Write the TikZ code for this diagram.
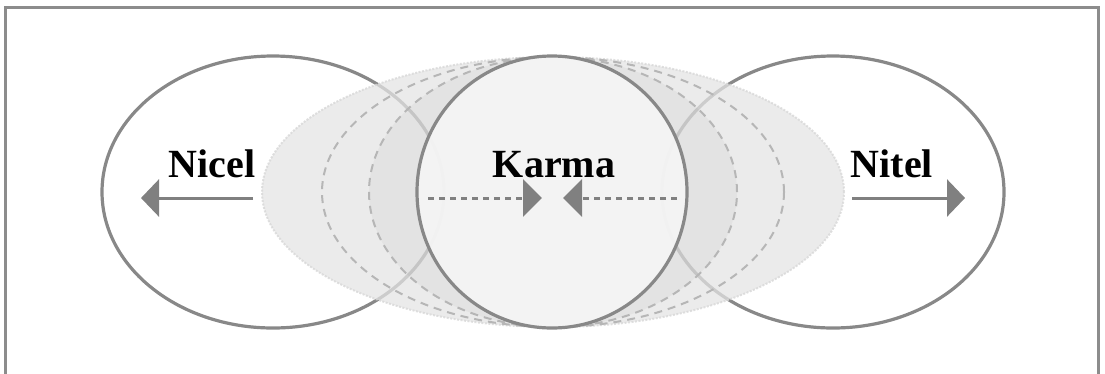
\documentclass[tikz,border=0pt]{standalone}
\usepackage{fontspec}
\setmainfont{Liberation Serif}
\usetikzlibrary{shapes.geometric,arrows.meta}
\definecolor{edgegray}{HTML}{888888}
\definecolor{framegray}{HTML}{8C8C8C}
\definecolor{fuzzgray}{HTML}{E4E4E4}
\definecolor{fuzzedge}{HTML}{D8D8D8}
\definecolor{dashgray}{HTML}{B6B6B6}
\definecolor{midfill}{HTML}{F6F6F6}
\definecolor{arrowgray}{HTML}{808080}
\begin{document}
\begin{tikzpicture}[x=1pt,y=-1pt,
  frame/.style={draw=framegray,line width=3pt},
  ellbase/.style={ellipse,inner sep=0pt,outer sep=0pt},
  sideell/.style={ellbase,draw=edgegray,line width=3.2pt,minimum width=342pt,minimum height=272pt},
  fuzz/.style={ellbase,fill=fuzzgray,fill opacity=0.75,draw=fuzzedge,draw opacity=0.8,line width=2pt,dash pattern=on 2pt off 1.5pt,minimum width=582pt,minimum height=270pt},
  dashell/.style={ellbase,draw=dashgray,line width=2pt,dash pattern=on 8pt off 6pt,minimum height=270pt},
  midell/.style={ellbase,draw=edgegray,line width=3.2pt,fill=midfill,fill opacity=0.9,minimum width=270pt,minimum height=272pt},
  label/.style={font=\fontsize{40}{48}\selectfont\bfseries,anchor=base,inner sep=0pt,text=black},
  solidarrow/.style={draw=arrowgray,line width=3pt,-{Triangle[length=18pt,width=37pt]}},
  dasharrow/.style={draw=arrowgray,line width=3pt,dash pattern=on 6pt off 5pt,-{Triangle[length=19pt,width=37pt]}}
]
\useasboundingbox (0,0) rectangle (1105,373);
\draw[frame] (5.5,385) -- (5.5,7.5) -- (1098.5,7.5) -- (1098.5,385);

\node[sideell] (L) at (273,192) {};
\node[sideell] (R) at (833,192) {};
\node[fuzz] (B) at (553,192) {};
\node[dashell,minimum width=462pt] (D1) at (553,192) {};
\node[dashell,minimum width=368pt,fill=black,fill opacity=0.03] (D2) at (553,192) {};
\node[midell] (M) at (552,192) {};

\node[label] (nicel) at (212,177) {Nicel};
\node[label] (karma) at (554,177) {Karma};
\node[label] (nitel) at (892,177) {Nitel};

\coordinate (nlA) at (253,198);
\coordinate (nlB) at (141,198);
\coordinate (ntA) at (852,198);
\coordinate (ntB) at (965,198);
\coordinate (klA) at (428,198);
\coordinate (klB) at (542,198);
\coordinate (krA) at (677,198);
\coordinate (krB) at (563,198);

\draw[solidarrow] (nlA) -- (nlB);
\draw[solidarrow] (ntA) -- (ntB);
\draw[dasharrow] (klA) -- (klB);
\draw[dasharrow] (krA) -- (krB);
\end{tikzpicture}
\end{document}
